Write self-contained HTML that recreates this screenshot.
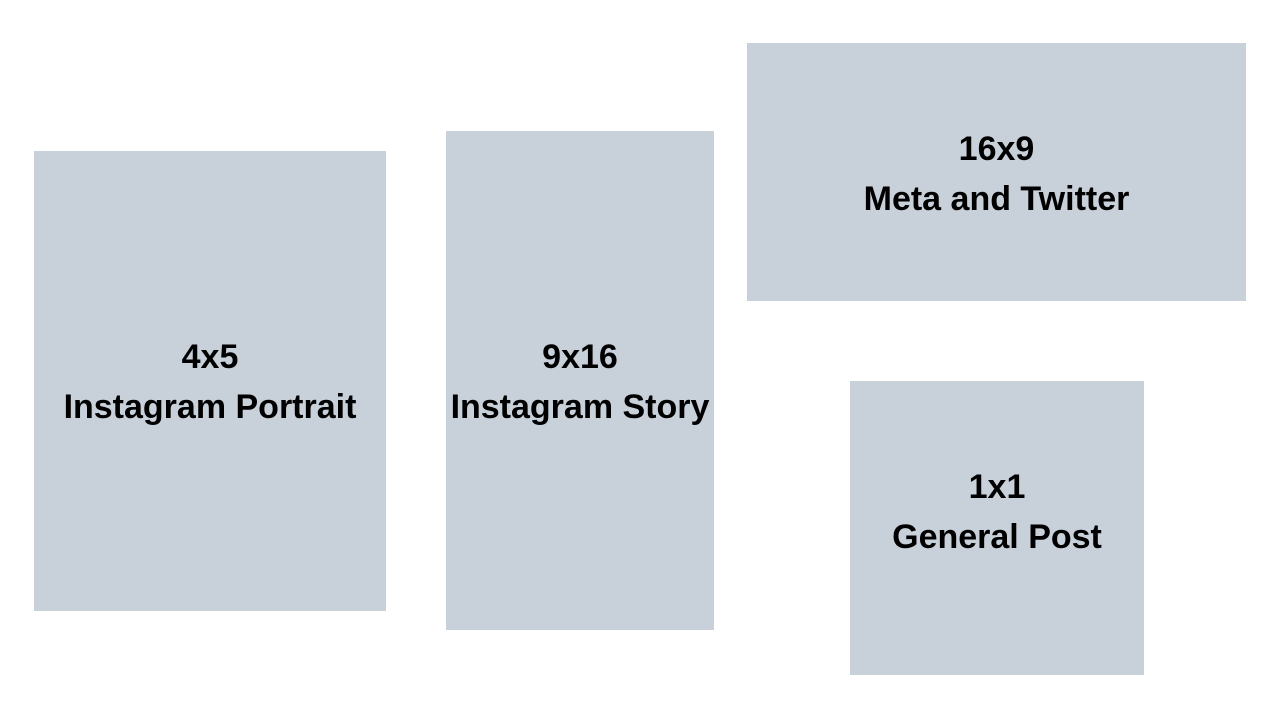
<!DOCTYPE html>
<html><head><meta charset="utf-8"><style>
html,body{margin:0;padding:0;width:1280px;height:720px;background:#fff;overflow:hidden}
.b{position:absolute;background:#c8d0da}
.t{position:absolute;left:-20px;right:-20px;text-align:center;font-family:"Liberation Sans",sans-serif;font-weight:bold;font-size:34px;color:#000;line-height:50px;white-space:nowrap}
</style></head><body>
<div class="b" style="left:34px;top:151px;width:352px;height:460px"><div class="t" style="top:181px">4x5<br>Instagram Portrait</div></div>
<div class="b" style="left:446px;top:131px;width:268px;height:499px"><div class="t" style="top:201px">9x16<br>Instagram Story</div></div>
<div class="b" style="left:747px;top:43px;width:499px;height:258px"><div class="t" style="top:81px">16x9<br>Meta and Twitter</div></div>
<div class="b" style="left:850px;top:381px;width:294px;height:294px"><div class="t" style="top:81px">1x1<br>General Post</div></div>
</body></html>
